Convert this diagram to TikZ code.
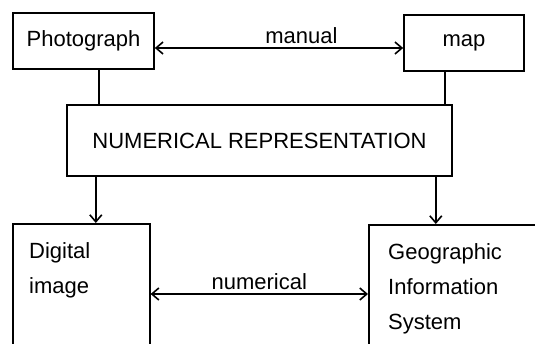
\documentclass[tikz,border=0pt]{standalone}
\usepackage{fontspec}
\setmainfont{Liberation Sans}
\usetikzlibrary{positioning}
\usetikzlibrary{calc}
\usetikzlibrary{arrows.meta}

\begin{document}
\begin{tikzpicture}[x=1pt, y=-1pt,
    box/.style={draw, line width=1.6pt, inner sep=0pt},
    txt/.style={font=\fontsize{22}{35}\selectfont, inner sep=0pt},
    link/.style={line width=1.6pt},
    arrow/.style={-{Straight Barb[length=7pt,width=12pt]}, line width=1.6pt},
    biarrow/.style={{Straight Barb[length=7pt,width=12pt]}-{Straight Barb[length=7pt,width=12pt]}, line width=1.6pt},
]
\useasboundingbox (0,0) rectangle (535,343);
\node[box, txt, minimum width=141pt, minimum height=56pt] (photo) at (83.5,41) {Photograph};
\node[box, txt, minimum width=120pt, minimum height=56pt] (map) at (464,43) {map};
\node[box, txt, minimum width=385pt, minimum height=71pt] (numrep) at (259.5,140.5) {NUMERICAL REPRESENTATION};
\node[box, minimum width=137pt, minimum height=150pt, anchor=north west] (digital) at (12,223) {};
\node[box, minimum width=190pt, minimum height=150pt, anchor=north west] (gis) at (368,224) {};
\node[txt, align=left, anchor=north west] (digitaltxt) at ([xshift=17pt, yshift=-19pt]digital.north west) {Digital\\image};
\node[txt, align=left, anchor=north west] (gistxt) at ([xshift=20pt, yshift=-19pt]gis.north west) {Geographic\\Information\\System};

\draw[biarrow] ([yshift=-7pt]photo.east) -- ([yshift=-7pt]photo.east -| map.west)
    node[txt, above, pos=0.59, inner sep=3pt] (manual) {manual};
\draw[link] ([xshift=15.5pt]photo.south) -- ([xshift=15.5pt]photo.south |- numrep.north);
\draw[link] ([xshift=-19pt]map.south) -- ([xshift=-19pt]map.south |- numrep.north);
\draw[arrow] ([xshift=14.5pt]digital.north |- numrep.south) -- ([xshift=14.5pt]digital.north);
\draw[arrow] ([xshift=-28pt]gis.north |- numrep.south) -- ([xshift=-28pt]gis.north);
\draw[biarrow] ([yshift=-71pt]digital.north east) -- ([yshift=-71pt]digital.north east -| gis.west)
    node[txt, above, midway, inner sep=3pt] (numerical) {numerical};
\end{tikzpicture}
\end{document}
